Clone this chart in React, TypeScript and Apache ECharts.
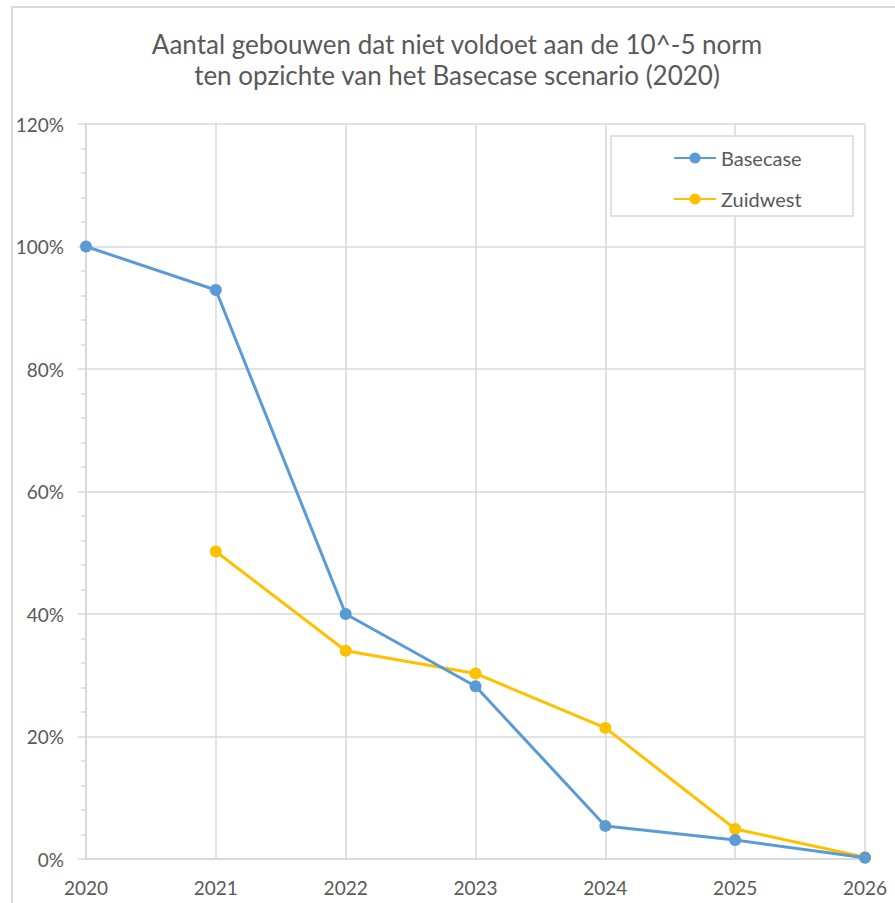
import React, { useEffect, useRef } from "react";
import * as echarts from "echarts";

const years = ["2020", "2021", "2022", "2023", "2024", "2025", "2026"];
const basecase = [100, 92.9, 40.0, 28.2, 5.4, 3.1, 0.2];
const zuidwest: (number | null)[] = [null, 50.2, 34.0, 30.3, 21.4, 4.9, 0.3];
const titleLines = [
  "Aantal gebouwen dat niet voldoet aan de 10^-5 norm",
  "ten opzichte van het Basecase scenario (2020)",
];

const FONT = "Lato, 'Noto Sans', sans-serif";
const TEXT = "#595959";
const GRID = "#D9D9D9";

export default function App() {
  const ref = useRef<HTMLDivElement>(null);
  useEffect(() => {
    if (!ref.current) return;
    const chart = echarts.init(ref.current, undefined, { renderer: "svg" });
    chart.setOption({
      animation: false,
      backgroundColor: "#ffffff",
      textStyle: { fontFamily: FONT },
      graphic: [
        {
          type: "rect",
          shape: { x: 12, y: 7, width: 910, height: 920 },
          style: { fill: "none", stroke: GRID, lineWidth: 2 },
          silent: true,
          z: -1,
        },
        {
          type: "text",
          x: 457,
          y: 44,
          style: {
            text: titleLines[0],
            fill: TEXT,
            font: `26px ${FONT}`,
            textAlign: "center",
            textVerticalAlign: "middle",
          },
        },
        {
          type: "text",
          x: 457,
          y: 75,
          style: {
            text: titleLines[1],
            fill: TEXT,
            font: `26px ${FONT}`,
            textAlign: "center",
            textVerticalAlign: "middle",
          },
        },
        {
          type: "rect",
          shape: { x: 611, y: 136, width: 242, height: 80 },
          style: { fill: "#ffffff", stroke: GRID, lineWidth: 1.5 },
          z: 5,
        },
      ],
      legend: {
        orient: "vertical",
        left: 668,
        top: 143,
        itemWidth: 42,
        itemHeight: 14,
        itemGap: 21,
        z: 10,
        textStyle: { color: TEXT, fontSize: 20, fontFamily: FONT },
        data: ["Basecase", "Zuidwest"],
      },
      grid: { left: 86, right: 30, top: 124, bottom: 44, containLabel: false },
      xAxis: {
        type: "category",
        data: years,
        boundaryGap: false,
        axisLine: { show: true, lineStyle: { color: GRID, width: 2 } },
        axisTick: { show: false },
        splitLine: { show: true, lineStyle: { color: GRID, width: 1.5 } },
        axisLabel: { color: TEXT, fontSize: 19, margin: 19, fontFamily: FONT },
      },
      yAxis: {
        type: "value",
        min: 0,
        max: 120,
        interval: 20,
        axisLine: { show: true, lineStyle: { color: GRID, width: 2 } },
        axisTick: { show: true, length: 8, lineStyle: { color: GRID, width: 1.5 } },
        minorTick: { show: true, splitNumber: 5, length: 5, lineStyle: { color: GRID, width: 1.5 } },
        splitLine: { show: true, lineStyle: { color: GRID, width: 1.5 } },
        axisLabel: {
          color: TEXT,
          fontSize: 19,
          margin: 22,
          fontFamily: FONT,
          formatter: (v: number) => `${v}%`,
        },
      },
      series: [
        {
          name: "Basecase",
          type: "line",
          data: basecase,
          itemStyle: { color: "#5B9BD5" },
          symbol: "circle",
          symbolSize: 12,
          lineStyle: { width: 3, color: "#5B9BD5" },
          z: 3,
        },
        {
          name: "Zuidwest",
          type: "line",
          data: zuidwest,
          itemStyle: { color: "#FFC000" },
          symbol: "circle",
          symbolSize: 12,
          lineStyle: { width: 3, color: "#FFC000" },
          z: 2,
        },
      ],
    });
    return () => chart.dispose();
  }, []);
  return (
    <div
      ref={ref}
      style={{ position: "fixed", left: 0, top: 0, width: 895, height: 903 }}
    />
  );
}
